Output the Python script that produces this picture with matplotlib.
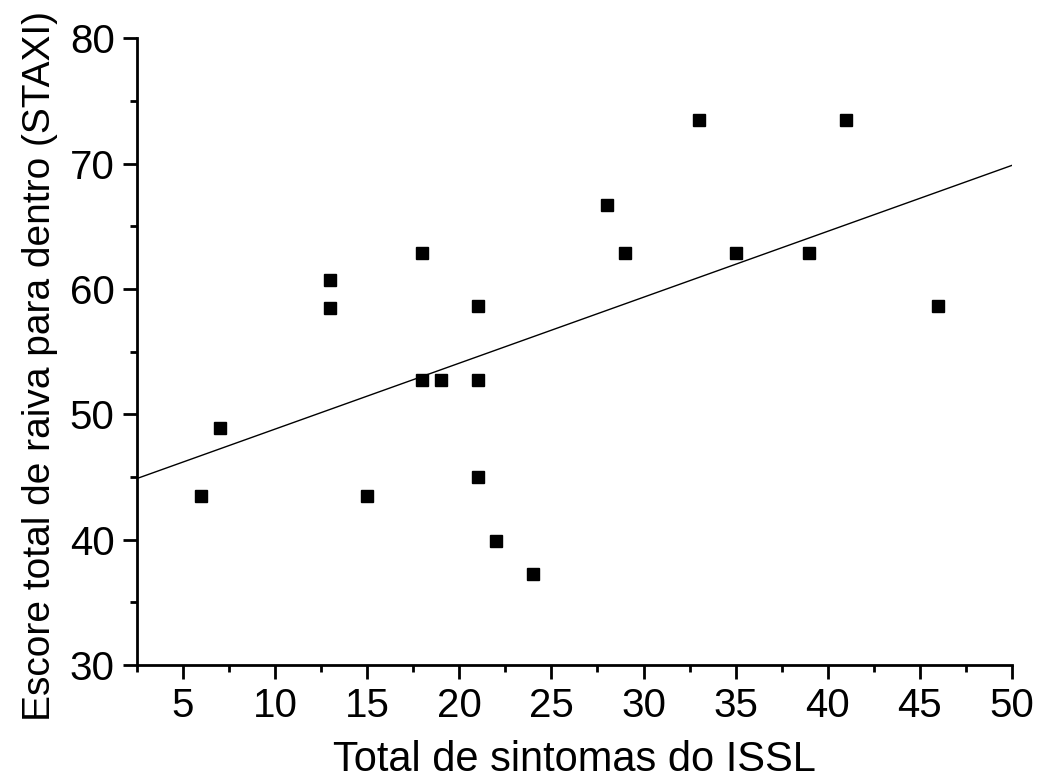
"""Scatter of ISSL symptoms vs STAXI anger-in score with linear fit."""
import matplotlib
matplotlib.use("Agg")
import matplotlib.pyplot as plt
import numpy as np
from matplotlib.ticker import MultipleLocator

plt.rcParams["font.family"] = ["Liberation Sans", "DejaVu Sans"]

issl = [6, 7, 13, 13, 15, 18, 18, 19, 21, 21, 21, 22, 24, 28, 29, 33, 35, 39, 41, 46]
staxi = [43.5, 48.9, 60.7, 58.5, 43.5, 52.7, 62.9, 52.7, 58.6, 52.7, 45.0, 39.9,
         37.3, 66.7, 62.9, 73.5, 62.9, 62.9, 73.5, 58.6]

fig = plt.figure(figsize=(10.4, 7.8), dpi=100)
ax = fig.add_axes([0.1317, 0.1474, 0.8413, 0.8036])

ax.plot(issl, staxi, "s", color="black", ms=8.5, ls="none")

slope, intercept = np.polyfit(issl, staxi, 1)
xs = np.array([2.5, 50])
ax.plot(xs, intercept + slope * xs, color="black", lw=1)

ax.set_xlim(2.5, 50)
ax.set_ylim(30, 80)
ax.xaxis.set_major_locator(MultipleLocator(5))
ax.xaxis.set_minor_locator(MultipleLocator(2.5))
ax.yaxis.set_major_locator(MultipleLocator(10))
ax.yaxis.set_minor_locator(MultipleLocator(5))

for side in ("top", "right"):
    ax.spines[side].set_visible(False)
for side in ("left", "bottom"):
    ax.spines[side].set_linewidth(2)

ax.tick_params(which="major", direction="out", length=10, width=2, labelsize=29, pad=6)
ax.tick_params(which="minor", direction="out", length=5, width=2)

ax.set_xlabel("Total de sintomas do ISSL", fontsize=30)
ax.xaxis.set_label_coords(0.5, -0.12)
ax.set_ylabel("Escore total de raiva para dentro (STAXI)", fontsize=28)
ax.yaxis.set_label_coords(-0.09, 0.477)

fig.savefig("out.png", dpi=100)
